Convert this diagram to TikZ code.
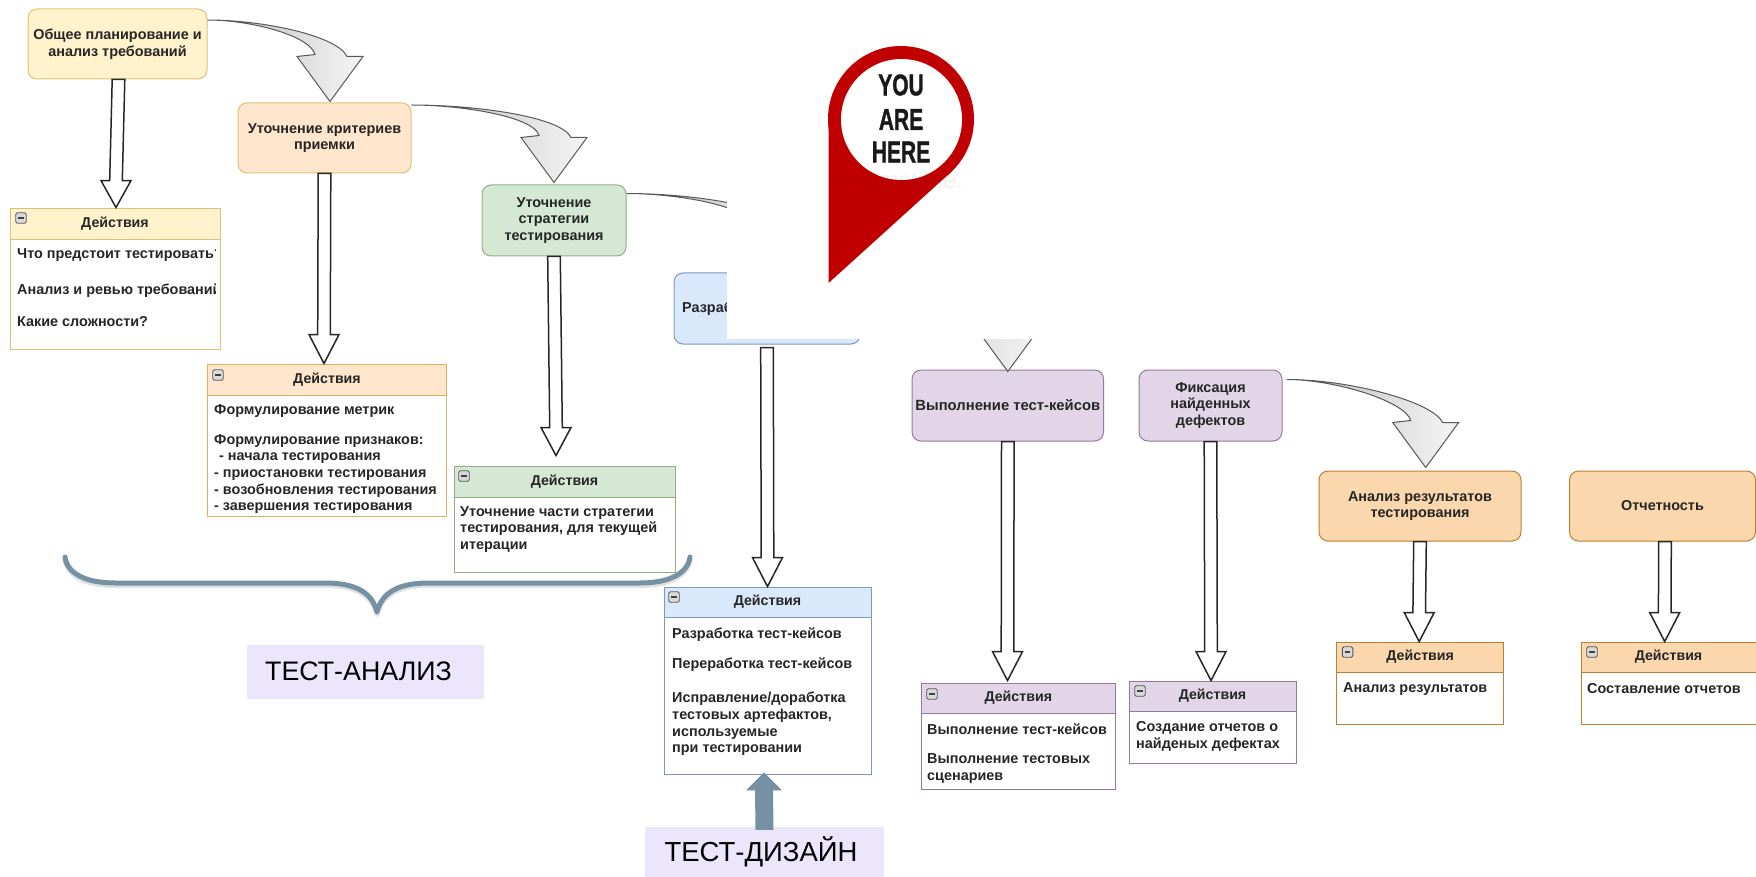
\documentclass[tikz,border=0pt]{standalone}
\usepackage{fontspec}
\usepackage{graphicx}
\setmainfont{Liberation Sans}
\usetikzlibrary{calc}
\definecolor{txt}{HTML}{262626}
\definecolor{yelF}{HTML}{FFF2CC}\definecolor{yelD}{HTML}{DCC276}
\definecolor{oraF}{HTML}{FFE6CC}\definecolor{oraD}{HTML}{D8B45C}
\definecolor{greF}{HTML}{D5E8D4}\definecolor{greD}{HTML}{93AE85}
\definecolor{bluF}{HTML}{DAE8FC}\definecolor{bluD}{HTML}{7C98C2}
\definecolor{purF}{HTML}{E1D5E7}\definecolor{purD}{HTML}{96799F}
\definecolor{dorF}{HTML}{FAD7AC}\definecolor{dorD}{HTML}{BD8030}
\definecolor{slate}{HTML}{7591A3}
\definecolor{lav}{HTML}{ECE6FC}
\definecolor{pinred}{HTML}{C00000}
\tikzset{
  proc/.style={rectangle,rounded corners=9pt,line width=1pt,inner sep=0pt,align=center,text=txt,font=\fontsize{14.4}{16.6}\selectfont\bfseries},
  actbody/.style={rectangle,line width=.9pt,inner sep=0pt,fill=white},
  acthead/.style={rectangle,line width=.9pt,inner sep=0pt,text=txt,font=\fontsize{14.2}{16.6}\selectfont\bfseries},
  linetext/.style={anchor=west,inner sep=0pt,align=left,text=txt,font=\fontsize{14.4}{16.6}\selectfont\bfseries},
  iconbox/.style={rectangle,rounded corners=1.5pt,minimum size=10.5pt,inner sep=0pt,draw=black!65,fill=black!15,line width=.9pt},
  hollow/.style={draw=black!85,fill=white,line width=1.5pt,line join=miter},
  bent/.style={draw=black!65,line width=1pt,left color=black!26,right color=black!4,line join=miter},
  tag/.style={rectangle,fill=lav,inner sep=0pt,text=black,font=\fontsize{27.5}{30}\selectfont},
  pinword/.style={inner sep=0pt,text=black!90,font=\fontsize{30}{30}\selectfont\bfseries\addfontfeature{FakeBold=1.4}},
  bracepath/.style={draw=slate,line width=5pt,line cap=round,line join=round}
}
\newcommand{\hollowarrow}[3][28]{%
  \path[hollow] let \p1=#2, \p2=#3 in
    ({\x1-6.3pt},\y1) -- ({\x2-6.3pt},{\y2+#1pt}) -- ({\x2-15pt},{\y2+#1pt}) -- (\x2,\y2)
    -- ({\x2+15pt},{\y2+#1pt}) -- ({\x2+6.3pt},{\y2+#1pt}) -- ({\x1+6.3pt},\y1) -- cycle;}
\newcommand{\bentarrow}[2]{%
  \path[bent] let \p1=#1, \p2=#2, \n1={\x2-\x1} in
    (\x1,\y1) .. controls ({\x1+.45*\n1},\y1) and ({\x2+7pt},{\y2+66pt}) .. ({\x2+17pt},{\y2+45pt})
    -- ({\x2+33pt},{\y2+45pt}) -- (\x2,\y2) -- ({\x2-33pt},{\y2+45pt}) -- ({\x2-15pt},{\y2+47pt})
    .. controls ({\x2-20pt},{\y2+66pt}) and ({\x1+.35*\n1},\y1) .. (\x1,\y1) -- cycle;}
\newcommand{\actionbox}[8]{%
  \node[actbody,draw=#8,minimum width={(#4-#2)*1pt},minimum height={(#5-#3)*1pt}] (#1) at ({(#2+#4)/2},{(#3+#5)/2}) {};
  \node[acthead,draw=#8,fill=#7,minimum width={(#4-#2)*1pt},minimum height={(#6-#3)*1pt}] (#1h) at ({(#2+#4)/2},{(#3+#6)/2}) {Действия};}
\newcommand{\minusicon}[3]{%
  \node[iconbox] (#1) at (#2,#3) {};
  \draw[black!75,line width=1.1pt] ([xshift=-2.8pt]#1.center) -- ([xshift=2.8pt]#1.center);}
\begin{document}
\begin{tikzpicture}[x=1pt,y=-1pt]
\useasboundingbox (0,0) rectangle (1756,877);
% process boxes
\node[proc,draw=yelD,fill=yelF,minimum width=179pt,minimum height=70pt] (b1) at (117.5,44) {Общее планирование и\\анализ требований};
\node[proc,draw=yelD,fill=oraF,minimum width=173pt,minimum height=70pt] (b2) at (324.5,138) {Уточнение критериев\\приемки};
\node[proc,draw=greD,fill=greF,minimum width=144pt,minimum height=71pt] (b3) at (554,220.5) {Уточнение\\стратегии\\тестирования};
\node[proc,draw=bluD,fill=bluF,minimum width=186pt,minimum height=71pt] (b4) at (767,308.5) {};
\node[linetext] (b4t) at (682,308.5) {Разраб};
\node[proc,draw=purD,fill=purF,minimum width=191.5pt,minimum height=71pt,font=\fontsize{14.8}{16.6}\selectfont\bfseries] (b5) at (1007.8,405.5) {Выполнение тест-кейсов};
\node[proc,draw=purD,fill=purF,minimum width=143pt,minimum height=71pt] (b6) at (1210.5,405.5) {Фиксация\\найденных\\дефектов};
\node[proc,draw=dorD,fill=dorF,minimum width=202pt,minimum height=70pt] (b7) at (1420,506) {Анализ результатов\\тестирования};
\node[proc,draw=dorD,fill=dorF,minimum width=186pt,minimum height=70pt] (b8) at (1662.5,506) {Отчетность};
% action boxes
\actionbox{a1}{10}{208}{220}{349}{239}{yelF}{yelD}
\actionbox{a2}{207.6}{364}{446.4}{516}{395}{oraF}{oraD}
\actionbox{a3}{454}{466}{675}{572}{497}{greF}{greD}
\actionbox{a4}{664}{587}{871}{774}{617}{bluF}{bluD}
\actionbox{a5}{921}{683}{1115.6}{789}{713}{purF}{purD}
\actionbox{a6}{1129}{681}{1296}{763}{711}{purF}{purD}
\actionbox{a7}{1336.7}{642}{1503.7}{724}{672}{dorF}{dorD}
\actionbox{a8}{1581}{642}{1756}{724}{672}{dorF}{dorD}
\minusicon{i1}{21}{218}
\minusicon{i2}{218}{375}
\minusicon{i3}{464}{476}
\minusicon{i4}{674}{597}
\minusicon{i5}{932}{694}
\minusicon{i6}{1140}{691}
\minusicon{i7}{1347.6}{652}
\minusicon{i8}{1592}{652}
% action texts
\begin{scope}
\clip (10,208) rectangle (215.5,349);
\node[linetext] (t11) at (17,255) {Что предстоит тестировать?};
\node[linetext] (t12) at (17,291) {Анализ и ревью требований};
\end{scope}
\node[linetext] (t13) at (17,322) {Какие сложности?};
\node[linetext] (t21) at (214,411) {Формулирование метрик};
\node[linetext] (t22) at (214,474) {Формулирование признаков:\\\hspace*{5pt}- начала тестирования\\- приостановки тестирования\\- возобновления тестирования\\- завершения тестирования};
\node[linetext] (t31) at (460,529.5) {Уточнение части стратегии\\тестирования, для текущей\\итерации};
\node[linetext] (t41) at (672,635) {Разработка тест-кейсов};
\node[linetext] (t42) at (672,665) {Переработка тест-кейсов};
\node[linetext] (t43) at (672,724) {Исправление/доработка\\тестовых артефактов,\\используемые\\при тестировании};
\node[linetext] (t51) at (927,729) {Выполнение тест-кейсов};
\node[linetext] (t52) at (927,768.5) {Выполнение тестовых\\сценариев};
\node[linetext] (t61) at (1136,736.5) {Создание отчетов о\\найденых дефектах};
\node[linetext] (t71) at (1343,689) {Анализ результатов};
\node[linetext] (t81) at (1587,689) {Составление отчетов};
% hollow arrows
\hollowarrow[27]{([xshift=1pt]b1.south)}{([xshift=1pt]a1.north)}
\hollowarrow[29]{(b2.south)}{([xshift=-3pt]a2.north)}
\hollowarrow[28]{(b3.south)}{([xshift=-8.5pt,yshift=10pt]a3.north)}
\hollowarrow[29]{([yshift=-3pt]b4.south)}{(a4.north)}
\hollowarrow[29]{(b5.south)}{([xshift=-10.8pt,yshift=2pt]a5.north)}
\hollowarrow[29]{(b6.south)}{([xshift=-1.5pt]a6.north)}
\hollowarrow[29]{(b7.south)}{([xshift=-1pt]a7.north)}
\hollowarrow[29]{([xshift=2.5pt]b8.south)}{([xshift=-3.8pt]a8.north)}
% bent arrows
\bentarrow{([yshift=24pt]b1.east)}{([xshift=5.5pt,yshift=1pt]b2.north)}
\bentarrow{([yshift=33pt]b2.east)}{([yshift=2pt]b3.north)}
\bentarrow{([yshift=27pt]b3.east)}{([yshift=1pt]b4.north)}
\bentarrow{([yshift=18pt]b4.east)}{([yshift=-2pt]b5.north)}
\bentarrow{([xshift=4pt,yshift=26pt]b6.east)}{([xshift=5.7pt,yshift=3pt]b7.north)}
% the blank patch over part of the scheme
\fill[white] (727,160) rectangle (1050,339);
% brace
\path[bracepath,draw=black,opacity=.12,yshift=-2.5pt] (65,557) .. controls (67,573) and (85,583) .. (115,583) -- (325,583) .. controls (355,583) and (372,592) .. (377,612) .. controls (382,592) and (399,583) .. (429,583) -- (640,583) .. controls (670,583) and (688,573) .. (690,557);
\path[bracepath] (65,557) .. controls (67,573) and (85,583) .. (115,583) -- (325,583) .. controls (355,583) and (372,592) .. (377,612) .. controls (382,592) and (399,583) .. (429,583) -- (640,583) .. controls (670,583) and (688,573) .. (690,557);
% labels
\node[tag,minimum width=237pt,minimum height=54pt,font=\fontsize{26.8}{30}\selectfont] (ta) at (365.5,672) {\hspace*{-14pt}\raisebox{2pt}{ТЕСТ-АНАЛИЗ}};
\node[tag,minimum width=239pt,minimum height=50pt] (td) at (764.5,852) {\hspace*{-7pt}ТЕСТ-ДИЗАЙН};
\path[fill=slate] let \p1=([yshift=-3pt]td.north), \p2=([xshift=-3.5pt,yshift=2pt]a4.south) in
  ({\x1-9pt},\y1) -- ({\x2-9pt},{\y2-18pt}) -- ({\x2-18pt},{\y2-18pt}) -- (\x2,\y2)
  -- ({\x2+18pt},{\y2-18pt}) -- ({\x2+9pt},{\y2-18pt}) -- ({\x1+9pt},\y1) -- cycle;
% pin
\fill[pinred] (828.6,119) -- (828.6,283) -- (952.6,170.6) -- (901,119) -- cycle;
\fill[pinred] (901,119) circle[radius=73];
\fill[white] (901.5,119.5) circle[radius=60.5];
\node[pinword] (you) at (901,85) {\scalebox{.7}[1]{YOU}};
\node[pinword] (are) at (901,119.5) {\scalebox{.7}[1]{ARE}};
\node[pinword] (here) at (901,152) {\scalebox{.7}[1]{HERE}};
\node[inner sep=0pt,text=black,text opacity=.05,font=\fontsize{24}{24}\selectfont] (wm) at (897,180) {dreamstime.};
\end{tikzpicture}
\end{document}
